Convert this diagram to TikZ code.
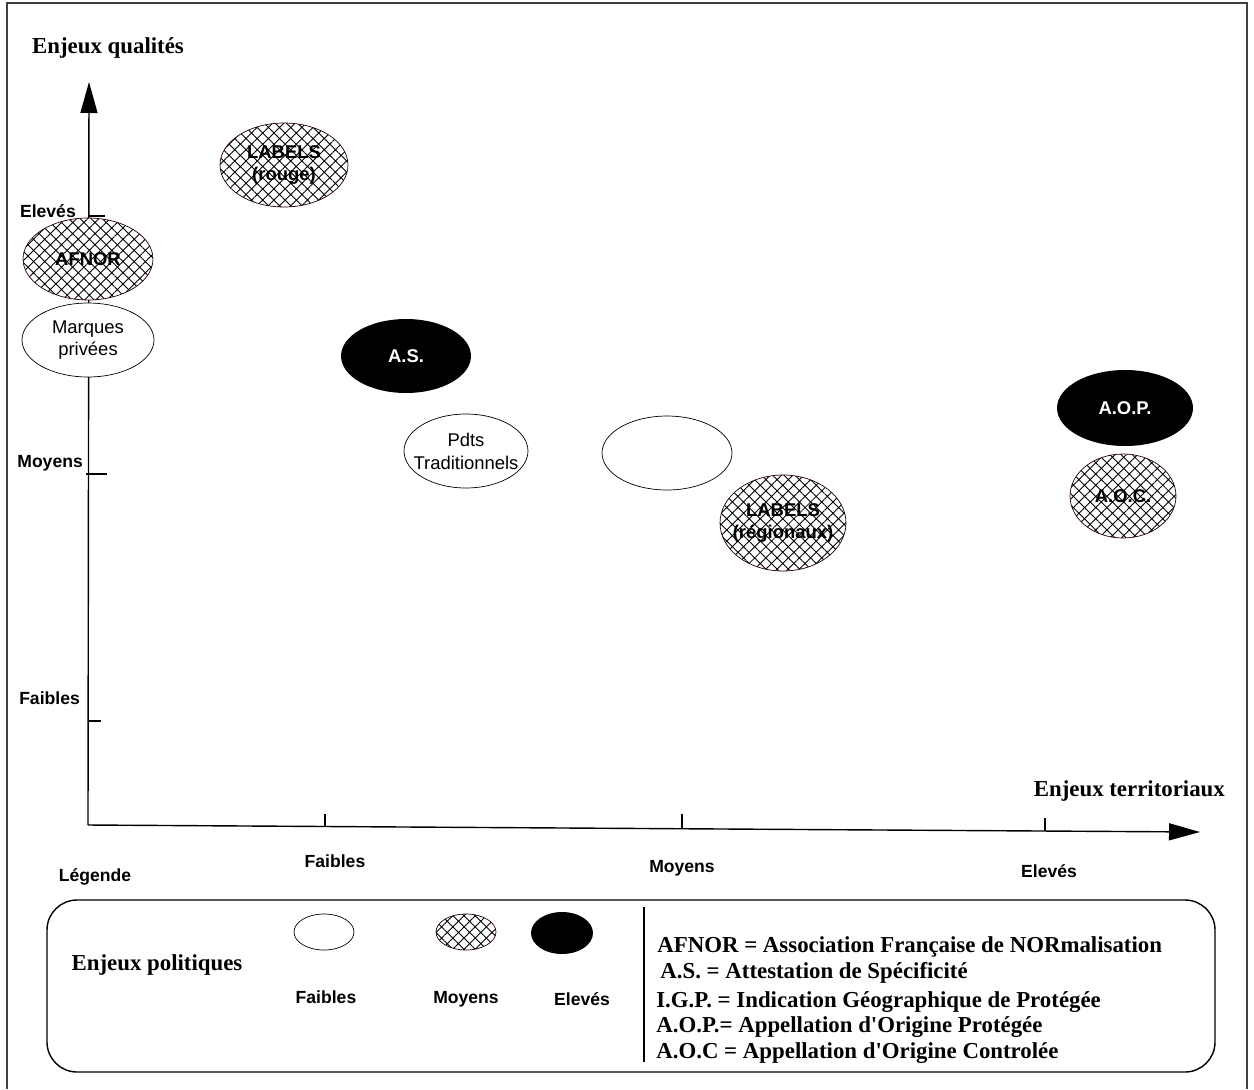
\documentclass[tikz,border=0pt]{standalone}
\usepackage{fontspec}
\setmainfont{Liberation Serif}
\setsansfont{Liberation Sans}
\usetikzlibrary{shapes.geometric,patterns.meta,arrows.meta}

\tikzset{
  taille/.style 2 args={minimum width=#1, minimum height=#2},
  bulle/.style={ellipse, inner sep=0pt, align=center, font=\sffamily\fontsize{10.5}{13}\selectfont},
  faible/.style={bulle, draw, fill=white},
  moyen/.style={bulle, draw=black!85!red, preaction={fill=white},
    pattern={Hatch[angle=45,distance=4.5pt,line width=0.5pt]},
    font=\sffamily\bfseries\fontsize{10.5}{13}\selectfont},
  eleve/.style={bulle, fill=black, text=white, font=\sffamily\bfseries\fontsize{10.5}{13}\selectfont},
  graduation/.style={font=\sffamily\bfseries\fontsize{10}{12}\selectfont},
  titre/.style={font=\bfseries\fontsize{13}{15}\selectfont},
  fleche/.style={line width=0.8pt, -{Triangle[length=0.62cm,width=0.34cm]}},
}

\begin{document}
\begin{tikzpicture}[x=0.02cm, y=-0.02cm]
\useasboundingbox (0,0) rectangle (1254,1089);

% cadre
\draw[line width=1.1pt, black!75] (7,1089) -- (7,3) -- (1247,3) -- (1247,1089);

% axes
\coordinate (O) at (88,825);
\coordinate (yhaut) at (89,82);
\coordinate (xbout) at (1200,832);
\draw[fleche] (O) -- (yhaut);
\draw[fleche] (O) -- (xbout);
\node[titre, anchor=west] (tq) at (26,48) {Enjeux qualités};
\node[titre, anchor=east] (tt) at (1231,791) {Enjeux territoriaux};

% graduations verticales
\draw[line width=0.6pt] (88,216) -- (105,216);
\draw[line width=0.6pt] (86,474) -- (107,474);
\draw[line width=0.6pt] (88,721) -- (101,721);
\node[graduation, anchor=east] (ye) at (82,211) {Elevés};
\node[graduation, anchor=east] (ym) at (89,463) {Moyens};
\node[graduation, anchor=east] (yf) at (86,698) {Faibles};

% graduations horizontales
\draw[line width=0.6pt] (325,826) -- (325,814);
\draw[line width=0.6pt] (682,829) -- (682,814);
\draw[line width=0.6pt] (1045,831) -- (1045,818);
\node[graduation] (xf) at (335,861) {Faibles};
\node[graduation] (xm) at (682,868) {Moyens};
\node[graduation] (xe) at (1049,871) {Elevés};

% les signes
\node[moyen, taille={2.56cm}{1.68cm}] (lrouge) at (284,165) {LABELS\\(rouge)};
\node[moyen, taille={2.6cm}{1.64cm}] (afnor) at (88,259) {AFNOR};
\node[faible, taille={2.64cm}{1.48cm}] (marques) at (88,340) {Marques\\privées};
\node[eleve, taille={2.6cm}{1.48cm}] (as) at (406,356) {A.S.};
\node[faible, taille={2.48cm}{1.48cm}, inner sep=-7pt] (pdts) at (466,451) {Pdts\\Traditionnels};
\node[faible, taille={2.6cm}{1.48cm}] (vide) at (667,453) {};
\node[moyen, taille={2.52cm}{1.92cm}, inner sep=-7pt] (lreg) at (783,523) {LABELS\\(régionaux)};
\node[eleve, taille={2.72cm}{1.52cm}] (aop) at (1125,408) {A.O.P.};
\node[moyen, taille={2.12cm}{1.68cm}] (aoc) at (1123,496) {A.O.C.};

% legende
\node[graduation] (leg) at (95,877) {Légende};
\draw[line width=0.8pt, rounded corners=0.6cm] (47,900) rectangle (1215,1072);
\draw[line width=0.6pt] (644,907) -- (644,1062);
\node[titre] (ep) at (157,965) {Enjeux politiques};
\node[faible, taille={1.2cm}{0.72cm}] (lf) at (324,932) {};
\node[moyen, taille={1.2cm}{0.72cm}] (lm) at (466,932) {};
\node[eleve, taille={1.24cm}{0.84cm}] (le) at (562,933) {};
\node[graduation] (lft) at (326,997) {Faibles};
\node[graduation] (lmt) at (466,999) {Moyens};
\node[graduation] (let) at (582,999) {Elevés};

\foreach \x/\y/\txt in {657/947/{AFNOR = Association Française de NORmalisation},
                        660/973/{A.S. = Attestation de Spécificité},
                        656/1002/{I.G.P. = Indication Géographique de Protégée},
                        656/1027/{A.O.P.= Appellation d\textquotesingle Origine Protégée},
                        656/1053/{A.O.C = Appellation d\textquotesingle Origine Controlée}}
  \node[titre, anchor=west, inner sep=0pt] at (\x,\y) {\txt};
\end{tikzpicture}
\end{document}
